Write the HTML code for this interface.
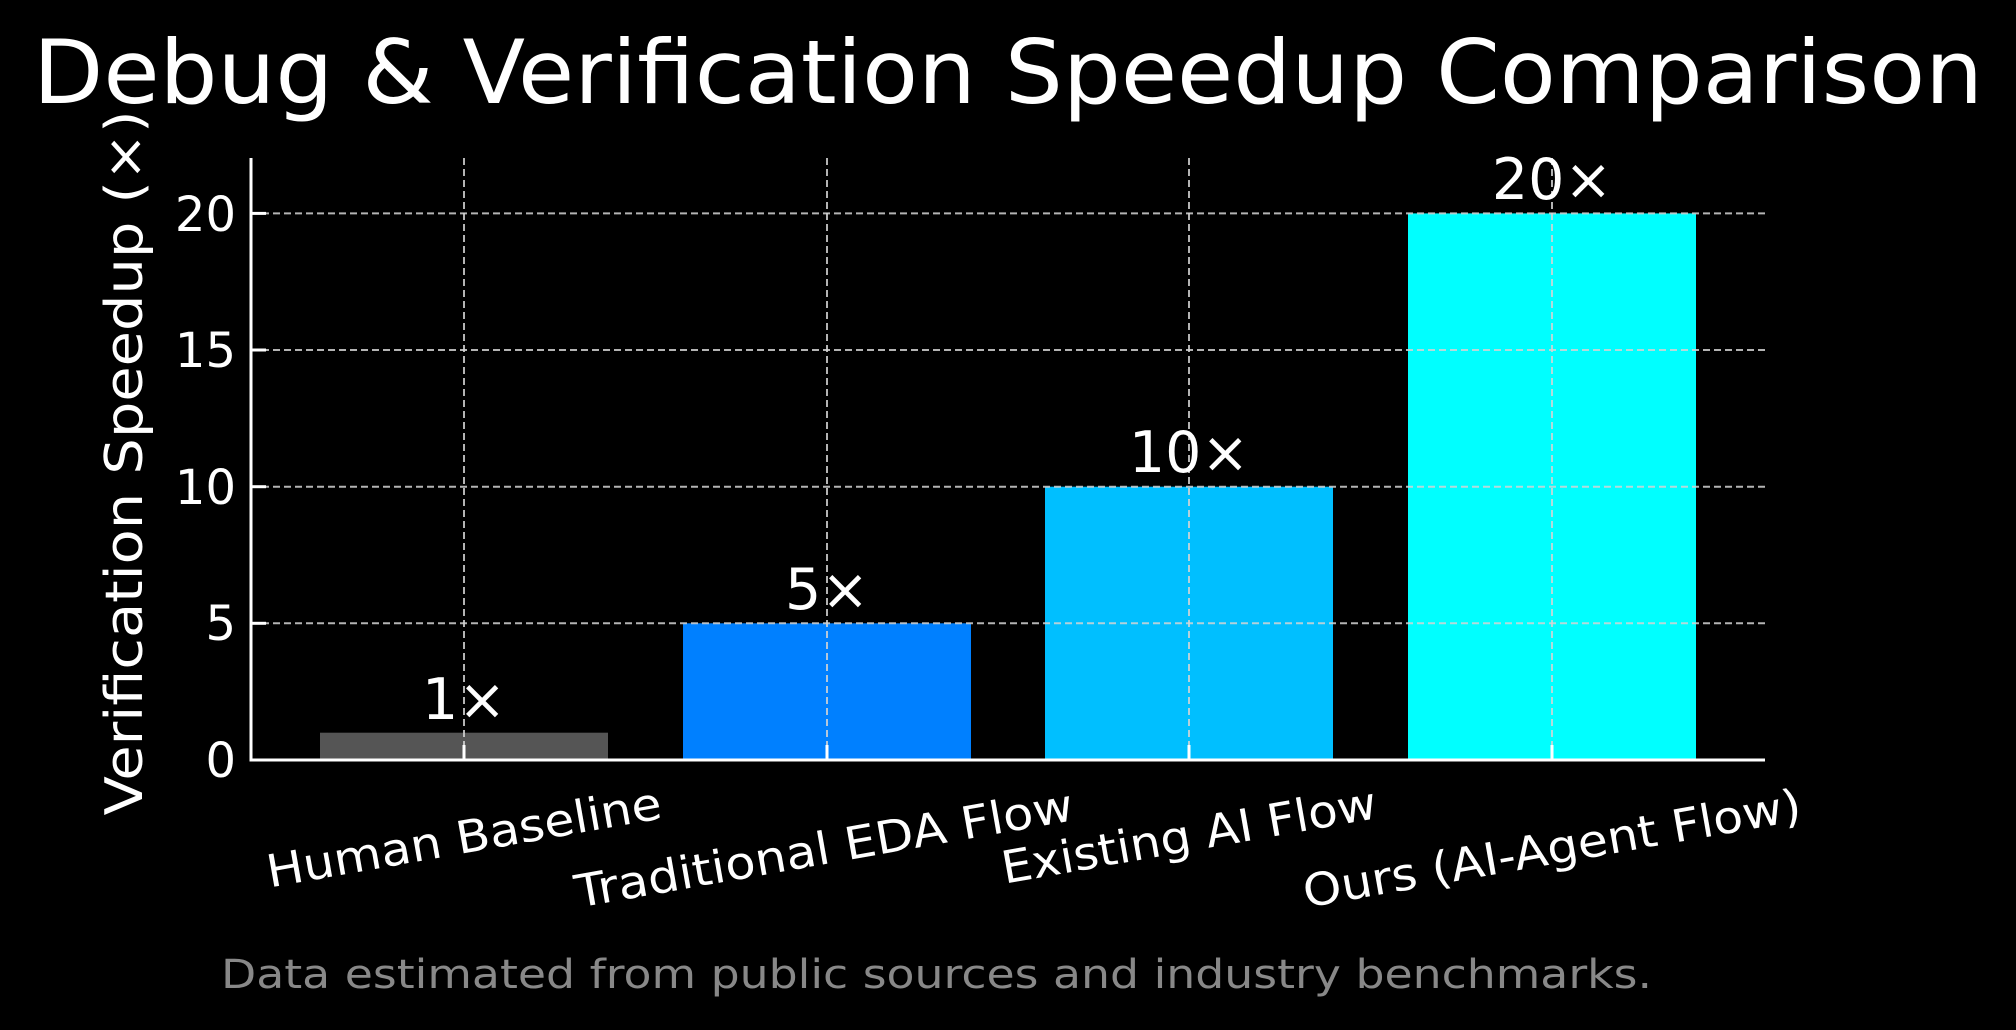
<!DOCTYPE html>
<html><head><meta charset="utf-8"><style>html,body{margin:0;padding:0;background:#000;}svg{display:block}</style></head>
<body>
<svg width="2016" height="1030" viewBox="0 0 2016 1030" xmlns="http://www.w3.org/2000/svg" font-family="DejaVu Sans, Liberation Sans, sans-serif">
<rect width="2016" height="1030" fill="#000"/>
<text x="1008" y="103" fill="#fff" font-size="88" text-anchor="middle" textLength="1950" lengthAdjust="spacingAndGlyphs">Debug &amp; Verification Speedup Comparison</text>
<!-- bars -->
<rect x="320" y="732.7" width="288" height="27.3" fill="#555555"/>
<rect x="683" y="623.3" width="288" height="136.7" fill="#0080ff"/>
<rect x="1045" y="486.7" width="288" height="273.3" fill="#00bfff"/>
<rect x="1408" y="213.4" width="288" height="546.6" fill="#00ffff"/>
<!-- grid -->
<g stroke="#d3d3d3" stroke-opacity="0.85" stroke-width="2" stroke-dasharray="7,4">
<line x1="251" x2="1765" y1="213.4" y2="213.4"/>
<line x1="251" x2="1765" y1="350" y2="350"/>
<line x1="251" x2="1765" y1="486.7" y2="486.7"/>
<line x1="251" x2="1765" y1="623.3" y2="623.3"/>
<line x1="464" x2="464" y1="158" y2="760"/>
<line x1="827" x2="827" y1="158" y2="760"/>
<line x1="1189" x2="1189" y1="158" y2="760"/>
<line x1="1552" x2="1552" y1="158" y2="760"/>
</g>
<!-- axes -->
<g stroke="#fff" stroke-width="3">
<line x1="251" y1="158" x2="251" y2="761.5"/>
<line x1="249.5" y1="760" x2="1765" y2="760"/>
<line x1="251" x2="266" y1="213.4" y2="213.4"/>
<line x1="251" x2="266" y1="350" y2="350"/>
<line x1="251" x2="266" y1="486.7" y2="486.7"/>
<line x1="251" x2="266" y1="623.3" y2="623.3"/>
<line x1="464" x2="464" y1="760" y2="745"/>
<line x1="827" x2="827" y1="760" y2="745"/>
<line x1="1189" x2="1189" y1="760" y2="745"/>
<line x1="1552" x2="1552" y1="760" y2="745"/>
</g>
<g fill="#fff" font-size="48" text-anchor="end">
<text x="236" y="777">0</text>
<text x="236" y="640">5</text>
<text x="236" y="504">10</text>
<text x="236" y="367">15</text>
<text x="236" y="231">20</text>
</g>
<text transform="translate(142,463) rotate(-90)" fill="#fff" font-size="52" text-anchor="middle" textLength="705" lengthAdjust="spacingAndGlyphs">Verification Speedup (×)</text>
<!-- bar labels -->
<g fill="#fff" font-size="57" text-anchor="middle">
<text x="464" y="719">1×</text>
<text x="827" y="609">5×</text>
<text x="1189" y="472">10×</text>
<text x="1552" y="199">20×</text>
</g>
<!-- x labels -->
<g fill="#fff" font-size="45" text-anchor="middle">
<text transform="translate(464,838) rotate(-10)" y="15" textLength="400" lengthAdjust="spacingAndGlyphs">Human Baseline</text>
<text transform="translate(824,849) rotate(-10)" y="15" textLength="505" lengthAdjust="spacingAndGlyphs">Traditional EDA Flow</text>
<text transform="translate(1189,836) rotate(-10)" y="15" textLength="380" lengthAdjust="spacingAndGlyphs">Existing AI Flow</text>
<text transform="translate(1552,849) rotate(-10)" y="15" textLength="505" lengthAdjust="spacingAndGlyphs">Ours (AI-Agent Flow)</text>
</g>
<text x="221" y="988" fill="#888" font-size="40" textLength="1431" lengthAdjust="spacingAndGlyphs">Data estimated from public sources and industry benchmarks.</text>
</svg>
</body></html>
